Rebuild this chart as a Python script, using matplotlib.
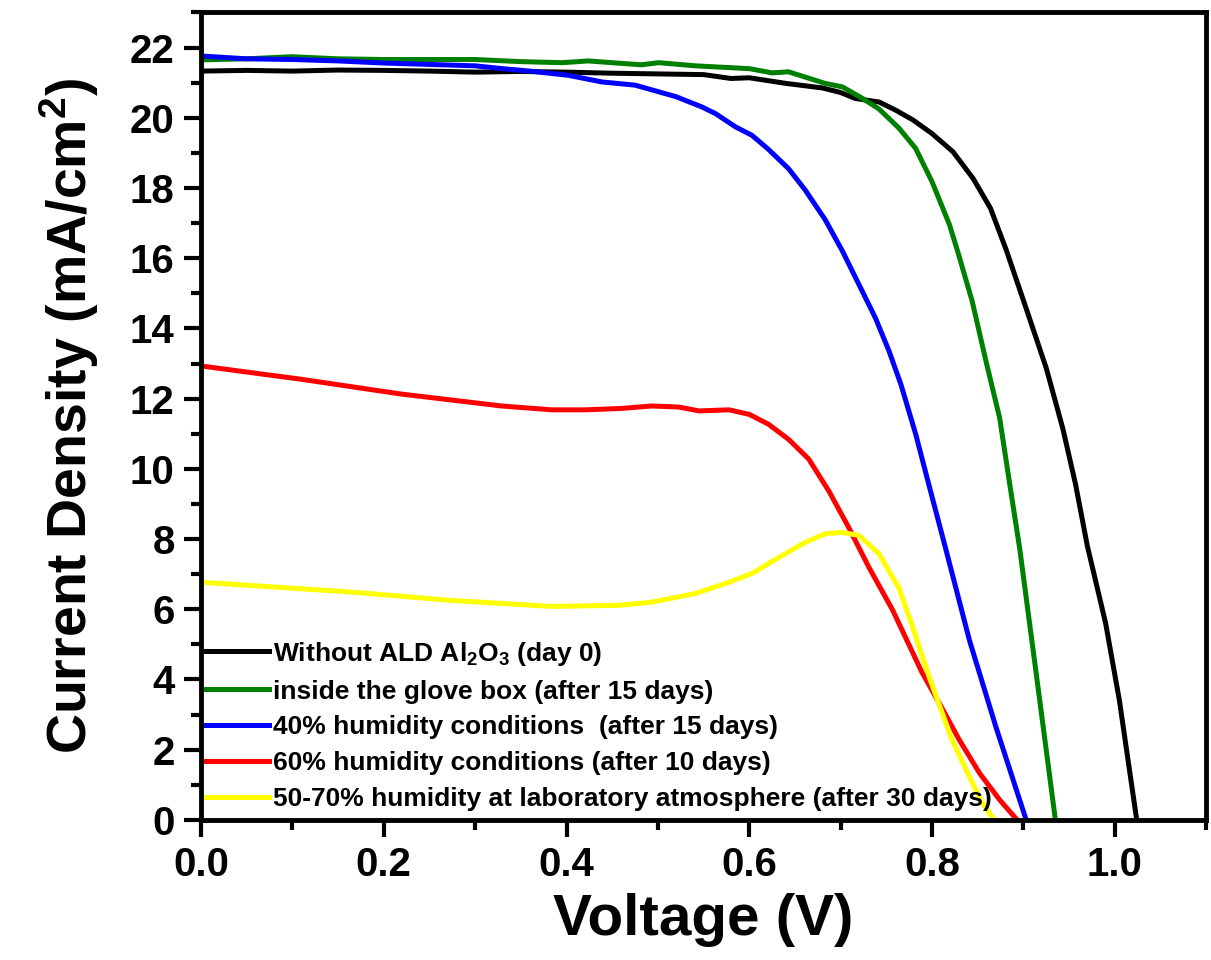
import numpy as np
import matplotlib
matplotlib.use("Agg")
import matplotlib.pyplot as plt
from matplotlib.ticker import MultipleLocator, FormatStrFormatter

plt.rcParams["font.family"] = ["Liberation Sans", "DejaVu Sans"]
plt.rcParams["font.weight"] = "bold"
plt.rcParams["mathtext.fontset"] = "custom"
plt.rcParams["mathtext.rm"] = "Liberation Sans:bold"
plt.rcParams["mathtext.it"] = "Liberation Sans:bold"
plt.rcParams["mathtext.bf"] = "Liberation Sans:bold"

# J-V curves, voltage in V, current density in mA/cm2
v_day0 = [0, 0.05, 0.1, 0.15, 0.2, 0.25, 0.3, 0.35, 0.4, 0.45, 0.5, 0.55, 0.58,
          0.6, 0.64, 0.68, 0.70, 0.716, 0.742, 0.76, 0.779, 0.80, 0.823,
          0.845, 0.864, 0.881, 0.903, 0.925, 0.943, 0.957, 0.970, 0.99, 1.005, 1.024]
j_day0 = [21.33, 21.35, 21.33, 21.36, 21.35, 21.33, 21.30, 21.32, 21.30, 21.27,
          21.25, 21.23, 21.12, 21.14, 20.98, 20.85, 20.72, 20.55, 20.45, 20.22,
          19.94, 19.55, 19.03, 18.27, 17.42, 16.25, 14.57, 12.87, 11.16,
          9.57, 7.8, 5.6, 3.41, 0.0]

v_glove = [0, 0.05, 0.099, 0.15, 0.2, 0.25, 0.3, 0.35, 0.395, 0.424, 0.46, 0.482,
           0.501, 0.541, 0.6, 0.625, 0.643, 0.683, 0.702, 0.724, 0.742, 0.764,
           0.782, 0.800, 0.819, 0.828, 0.844, 0.859, 0.874, 0.885, 0.896, 0.914, 0.935]
j_glove = [21.65, 21.68, 21.74, 21.68, 21.66, 21.66, 21.66, 21.6, 21.57, 21.62,
           21.55, 21.51, 21.57, 21.48, 21.4, 21.28, 21.31, 20.98, 20.88, 20.55,
           20.25, 19.7, 19.13, 18.18, 16.96, 16.2, 14.77, 13.07, 11.45, 9.57,
           7.72, 4.17, 0.0]

v_h40 = [0, 0.05, 0.1, 0.15, 0.2, 0.25, 0.3, 0.33, 0.36, 0.402, 0.439, 0.475,
         0.52, 0.548, 0.563, 0.585, 0.603, 0.621, 0.643, 0.661, 0.683, 0.702,
         0.720, 0.738, 0.753, 0.766, 0.782, 0.797, 0.815, 0.841, 0.870, 0.903]
j_h40 = [21.76, 21.68, 21.66, 21.62, 21.56, 21.52, 21.48, 21.4, 21.33, 21.21,
         21.02, 20.93, 20.6, 20.31, 20.12, 19.74, 19.5, 19.1, 18.55, 17.95,
         17.1, 16.2, 15.25, 14.3, 13.35, 12.4, 11.0, 9.5, 7.72, 5.11, 2.64, 0.0]

v_h60 = [0, 0.11, 0.219, 0.329, 0.384, 0.42, 0.46, 0.493, 0.523, 0.545, 0.578,
         0.6, 0.621, 0.643, 0.665, 0.687, 0.709, 0.731, 0.757, 0.789, 0.808,
         0.83, 0.852, 0.874, 0.893]
j_h60 = [12.93, 12.55, 12.13, 11.79, 11.68, 11.68, 11.72, 11.79, 11.76, 11.65,
         11.68, 11.55, 11.27, 10.84, 10.28, 9.37, 8.32, 7.19, 5.97, 4.2, 3.32,
         2.27, 1.33, 0.57, 0.0]

v_lab = [0, 0.164, 0.274, 0.384, 0.457, 0.493, 0.541, 0.578, 0.603, 0.636, 0.661,
         0.683, 0.702, 0.720, 0.742, 0.764, 0.779, 0.797, 0.822, 0.841, 0.855, 0.868]
j_lab = [6.77, 6.49, 6.25, 6.08, 6.11, 6.2, 6.45, 6.77, 7.02, 7.53, 7.9, 8.15,
         8.19, 8.1, 7.58, 6.59, 5.48, 4.06, 2.27, 1.22, 0.48, 0.0]

labels = [
    "Without ALD Al$_2$O$_3$ (day 0)",
    "inside the glove box (after 15 days)",
    "40% humidity conditions  (after 15 days)",
    "60% humidity conditions (after 10 days)",
    "50-70% humidity at laboratory atmosphere (after 30 days)",
]
colors = ["#000000", "#008000", "#0000ff", "#ff0000", "#ffff00"]
curves = [(v_day0, j_day0), (v_glove, j_glove), (v_h40, j_h40),
          (v_h60, j_h60), (v_lab, j_lab)]

fig = plt.figure(figsize=(12.11, 9.6), dpi=100)
ax = fig.add_axes([0.166, 0.146, 0.830, 0.841])

for (v, j), c, lab in zip(curves, colors, labels):
    ax.plot(v, j, color=c, lw=3.6, label=lab, solid_joinstyle="round")

ax.set_xlim(0, 1.1)
ax.set_ylim(0, 23)
ax.xaxis.set_major_locator(MultipleLocator(0.2))
ax.xaxis.set_minor_locator(MultipleLocator(0.1))
ax.yaxis.set_major_locator(MultipleLocator(2))
ax.yaxis.set_minor_locator(MultipleLocator(1))
ax.xaxis.set_major_formatter(FormatStrFormatter("%.1f"))

for s in ax.spines.values():
    s.set_linewidth(3.5)
ax.tick_params(which="both", direction="out", width=3, labelsize=29,
               top=False, right=False)
ax.tick_params(which="major", length=12, pad=7)
ax.tick_params(which="minor", length=7)
for t in ax.get_xticklabels() + ax.get_yticklabels():
    t.set_fontweight("bold")

ax.set_xlabel("Voltage (V)", fontsize=42, fontweight="bold", labelpad=6)
ax.set_ylabel("Current Density (mA/cm$^2$)", fontsize=40, fontweight="bold",
              labelpad=21)

leg = ax.legend(loc="lower left", bbox_to_anchor=(0.002, 0.0075), frameon=False,
                fontsize=19, handlelength=2.4, handletextpad=0.15,
                labelspacing=0.45, borderaxespad=0.0, borderpad=0.1)
for t in leg.get_texts():
    t.set_fontweight("bold")

fig.savefig("out.png", dpi=100)
